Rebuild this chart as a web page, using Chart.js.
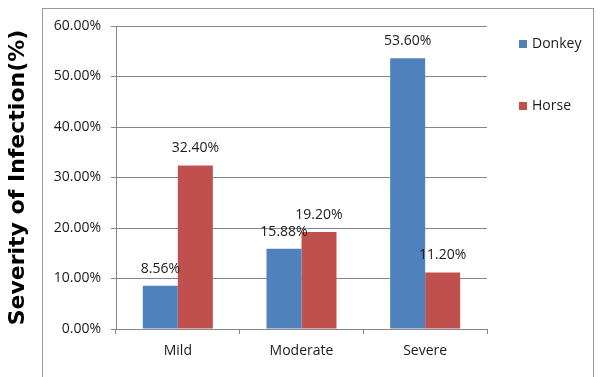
<!DOCTYPE html>
<html>
<head>
<meta charset="utf-8">
<script src="https://cdn.jsdelivr.net/npm/chart.js@4"></script>
<style>
    html, body { margin: 0; padding: 0; background: #fff; }
    #wrap { width: 600px; height: 377px; }
</style>
</head>
<body>
<div id="wrap"><canvas id="chart" width="600" height="377"></canvas></div>
<script>
    "use strict";

    // Data
    const categories = ["Mild", "Moderate", "Severe"];
    const donkeyValues = [8.56, 15.88, 53.6];
    const horseValues = [32.4, 19.2, 11.2];
    const yTicks = [0, 10, 20, 30, 40, 50, 60];

    const gridColor = "#878787";
    const textColor = "#1a1a1a";
    const tickFont = { family: "'Open Sans'", size: 14 };

    // outer frame
    const framePlugin = {
        id: "frame",
        beforeDraw(chart) {
            const ctx = chart.ctx;
            ctx.save();
            ctx.fillStyle = "#fff";
            ctx.fillRect(0, 0, chart.width, chart.height);
            ctx.strokeStyle = "#9a9a9a";
            ctx.lineWidth = 1;
            ctx.strokeRect(42.5, 8.5, 551, chart.height + 10);
            ctx.restore();
        },
    };

    // value labels above bars
    const valueLabels = {
        id: "valueLabels",
        afterDatasetsDraw(chart) {
            const ctx = chart.ctx;
            ctx.save();
            ctx.font = "14px 'Open Sans'";
            ctx.fillStyle = textColor;
            ctx.textAlign = "center";
            ctx.textBaseline = "middle";
            chart.data.datasets.forEach((ds, i) => {
                chart.getDatasetMeta(i).data.forEach((bar, j) => {
                    ctx.fillText(ds.data[j].toFixed(2) + "%", bar.x, bar.y - 17);
                });
            });
            ctx.restore();
        },
    };

    // legend on the right
    const sideLegend = {
        id: "sideLegend",
        afterDraw(chart) {
            const ctx = chart.ctx;
            const rows = [44, 106];
            ctx.save();
            ctx.font = "14px 'Open Sans'";
            ctx.textBaseline = "middle";
            chart.data.datasets.forEach((ds, i) => {
                ctx.fillStyle = ds.backgroundColor;
                ctx.fillRect(519, rows[i] - 4, 8, 8);
                ctx.fillStyle = textColor;
                ctx.fillText(ds.label, 532, rows[i]);
            });
            ctx.restore();
        },
    };

    const chart = new Chart(document.getElementById("chart"), {
        type: "bar",
        data: {
            labels: categories,
            datasets: [
                {
                    label: "Donkey",
                    data: donkeyValues,
                    backgroundColor: "#4F81BD",
                    categoryPercentage: 0.566,
                    barPercentage: 1,
                },
                {
                    label: "Horse",
                    data: horseValues,
                    backgroundColor: "#C0504D",
                    categoryPercentage: 0.566,
                    barPercentage: 1,
                },
            ],
        },
        options: {
            responsive: false,
            animation: false,
            devicePixelRatio: 1,
            layout: {
                padding: { top: 26, right: 113, left: 0, bottom: 0 },
            },
            plugins: {
                legend: { display: false },
                tooltip: { enabled: false },
            },
            scales: {
                x: {
                    afterFit(scale) {
                        scale.height = 48;
                    },
                    ticks: {
                        font: tickFont,
                        color: textColor,
                        padding: 9,
                    },
                    grid: {
                        display: true,
                        drawOnChartArea: false,
                        tickLength: 5,
                        color: gridColor,
                        offset: true,
                    },
                    border: { display: true, color: gridColor },
                },
                y: {
                    min: yTicks[0],
                    max: yTicks[yTicks.length - 1],
                    afterFit(scale) {
                        scale.width = 116;
                    },
                    afterBuildTicks(scale) {
                        scale.ticks = yTicks.map((v) => ({ value: v }));
                    },
                    ticks: {
                        font: tickFont,
                        color: textColor,
                        padding: 10,
                        callback: function (value) {
                            return value.toFixed(2) + "%";
                        },
                    },
                    grid: {
                        color: gridColor,
                        tickLength: 5,
                    },
                    border: { display: true, color: gridColor },
                    title: {
                        display: true,
                        text: "Severity of Infection(%)",
                        color: "#000",
                        font: { family: "'DejaVu Sans'", size: 22, weight: "bold", lineHeight: 1 },
                        padding: { top: 7, bottom: 0 },
                    },
                },
            },
        },
        plugins: [framePlugin, valueLabels, sideLegend],
    });
</script>
</body>
</html>
